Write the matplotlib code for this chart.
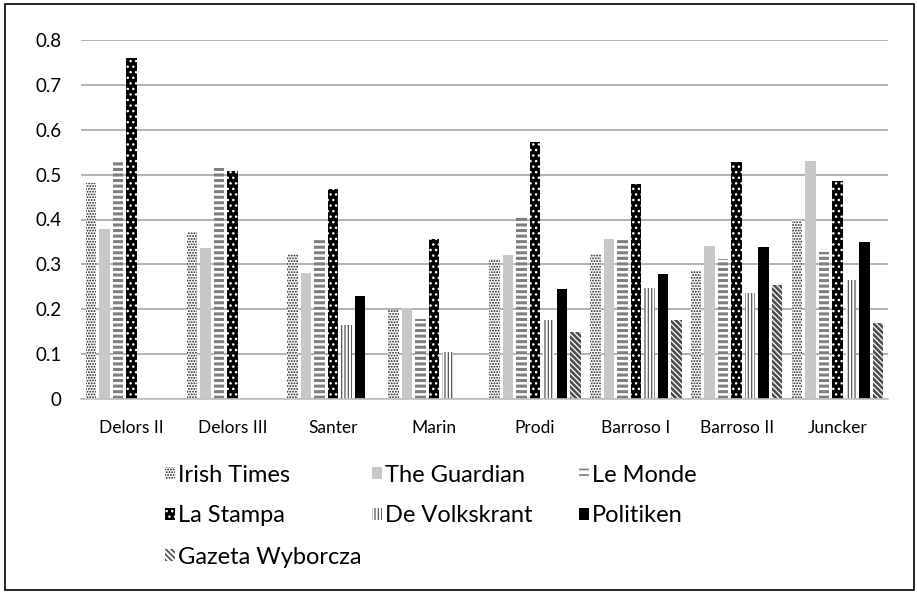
import matplotlib
matplotlib.use("Agg")
import matplotlib.pyplot as plt
import numpy as np
from matplotlib.patches import Patch

plt.rcParams['font.family'] = ['Lato', 'DejaVu Sans']

categories = ["Delors II", "Delors III", "Santer", "Marin", "Prodi",
              "Barroso I", "Barroso II", "Juncker"]
series_names = ["Irish Times", "The Guardian", "Le Monde", "La Stampa",
                "De Volkskrant", "Politiken", "Gazeta Wyborcza"]
irish_times = [0.482, 0.373, 0.324, 0.199, 0.311, 0.324, 0.285, 0.398]
the_guardian = [0.378, 0.337, 0.280, 0.202, 0.320, 0.356, 0.342, 0.530]
le_monde = [0.528, 0.515, 0.356, 0.179, 0.406, 0.356, 0.311, 0.327]
la_stampa = [0.760, 0.507, 0.469, 0.356, 0.573, 0.478, 0.528, 0.486]
de_volkskrant = [0.0, 0.0, 0.164, 0.104, 0.176, 0.247, 0.236, 0.265]
politiken = [0.0, 0.0, 0.230, 0.0, 0.246, 0.279, 0.338, 0.349]
gazeta_wyborcza = [0.0, 0.0, 0.0, 0.0, 0.149, 0.175, 0.253, 0.169]
y_ticks = [0, 0.1, 0.2, 0.3, 0.4, 0.5, 0.6, 0.7, 0.8]
y_tick_labels = ["0", "0.1", "0.2", "0.3", "0.4", "0.5", "0.6", "0.7", "0.8"]

values = [irish_times, the_guardian, le_monde, la_stampa,
          de_volkskrant, politiken, gazeta_wyborcza]

# (facecolor, hatch color, hatch, hatch linewidth)
styles = [
    ("white", "#1a1a1a", "......", 0.9),
    ("#c8c8c8", "#c8c8c8", None, 1.0),
    ("white", "#7f7f7f", "---", 2.2),
    ("black", "white", "...", 1.0),
    ("white", "#555555", "|||||", 0.9),
    ("black", "black", None, 1.0),
    ("white", "#4d4d4d", "\\\\\\\\\\\\", 1.9),
]

fig = plt.figure(figsize=(9.17, 5.92), dpi=100)
ax = fig.add_axes([81 / 917, 1 - 399 / 592, 807 / 917, 359 / 592])

x = np.arange(len(categories))
step = 0.134
width = 0.104
for i, (name, vals, st) in enumerate(zip(series_names, values, styles)):
    fc, hc, hatch, hlw = st
    plt.rcParams['hatch.linewidth'] = hlw
    bars = ax.bar(x + (i - 3) * step, vals, width, facecolor=fc,
                  edgecolor=hc, hatch=hatch, linewidth=0, zorder=2)
    for b in bars:
        try:
            b.set_hatch_linewidth(hlw)
        except AttributeError:
            pass

ax.set_xlim(-0.5, len(categories) - 0.5)
ax.set_ylim(0, 0.8)
ax.set_yticks(y_ticks)
ax.set_yticklabels(y_tick_labels, fontsize=13.5)
ax.set_xticks(x)
ax.set_xticklabels(categories, fontsize=12.5)
ax.tick_params(axis='x', length=0, pad=15)
ax.tick_params(axis='y', length=0, pad=14)
ax.grid(axis='y', color='#a6a6a6', linewidth=1.2, zorder=0)
ax.set_axisbelow(True)
for s in ['top', 'right', 'left']:
    ax.spines[s].set_visible(False)
ax.spines['bottom'].set_color('#bfbfbf')
ax.spines['bottom'].set_linewidth(1.2)
ax.spines['bottom'].set_zorder(3)

# legend: one entry per legend, laid out row-wise like the original
col_x = [165, 372, 579]
row_y = [475, 516, 557]
for i, name in enumerate(series_names):
    r, c = divmod(i, 3)
    fc, hc, hatch, hlw = styles[i]
    plt.rcParams['hatch.linewidth'] = min(hlw, 1.2)
    h = Patch(facecolor=fc, edgecolor=hc, hatch=hatch, linewidth=0)
    fig.legend(handles=[h], labels=[name], loc='center left',
               bbox_to_anchor=(col_x[c] / 917, 1 - row_y[r] / 592),
               frameon=False, fontsize=17, handlelength=0.42,
               handleheight=0.45, handletextpad=0.12, borderpad=0,
               borderaxespad=0)

# outer frame
fig.patches.append(plt.Rectangle((5 / 917, 2 / 592), 909 / 917, 586 / 592,
                                 transform=fig.transFigure, fill=False,
                                 edgecolor='black', linewidth=1.2))

fig.savefig("out.png", dpi=100)
